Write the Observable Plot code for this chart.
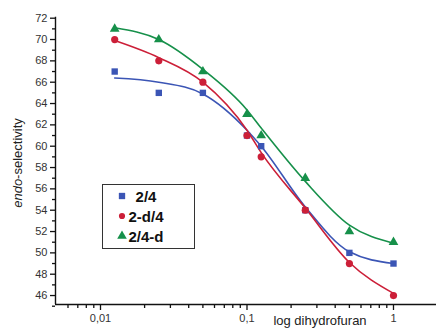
<!DOCTYPE html>
<html><head><meta charset="utf-8">
<script src="https://cdn.jsdelivr.net/npm/d3@7"></script>
<script src="https://cdn.jsdelivr.net/npm/@observablehq/plot@0.6"></script>
<style>
body{margin:0;background:#fff;font-family:"Liberation Sans",Arial,sans-serif;}
#chart{position:relative;width:436px;height:328px;}
</style></head><body><div id="chart"></div>
<script>
// data
const conc = [0.0125, 0.025, 0.05, 0.1, 0.125, 0.25, 0.5, 1];
const s24   = [67, 65, 65, 61, 60, 54, 50, 49];
const s2d4  = [70, 68, 66, 61, 59, 54, 49, 46];
const s24d  = [71, 70, 67, 63, 61, 57, 52, 51];
// fitted curves
const fit24  = [66.4, 66.0, 64.9, 61.5, 60.0, 54.3, 50.1, 49.0];
const fit2d4 = [69.9, 68.3, 66.0, 61.5, 59.4, 54.2, 49.1, 46.2];
const fit24d = [71.1, 70.0, 67.2, 63.4, 61.7, 56.7, 52.6, 50.9];
const seriesNames = ["2/4", "2-d/4", "2/4-d"];
const colors = ["#3b55b5", "#cc1f38", "#16904a"];
const symbols = ["square", "circle", "triangle"];
const xMajor = [0.01, 0.1, 1];
const xMajorLabels = ["0,01", "0,1", "1"];
const xMinor = [0.006,0.007,0.008,0.009,0.02,0.03,0.04,0.05,0.06,0.07,0.08,0.09,0.2,0.3,0.4,0.5,0.6,0.7,0.8,0.9];
const yMajor = [46,48,50,52,54,56,58,60,62,64,66,68,70,72];
const yMinor = [45,47,49,51,53,55,57,59,61,63,65,67,69,71];

const pts = [], fits = [];
[[s24, fit24], [s2d4, fit2d4], [s24d, fit24d]].forEach(([s, f], i) => {
  conc.forEach((c, j) => {
    pts.push({x: c, y: s[j], k: seriesNames[i]});
    fits.push({x: c, y: f[j], k: seriesNames[i]});
  });
});

const fsym = d3.scaleOrdinal(seriesNames, symbols);
const fcol = d3.scaleOrdinal(seriesNames, colors);

const plot = Plot.plot({
  width: 436, height: 328,
  marginLeft: 55, marginRight: 0, marginTop: 17.7, marginBottom: 24,
  style: {fontFamily: "Liberation Sans, Arial, sans-serif", fontSize: "11px", color: "#222", background: "#fff"},
  x: {type: "log", domain: [0.00493, 1.966], axis: null},
  y: {domain: [45.16, 72], axis: null},
  marks: [
    Plot.ruleY([45.16], {stroke: "#111", strokeWidth: 1.4}),
    Plot.ruleX([0.00493], {stroke: "#111", strokeWidth: 1.4, y1: 45.16, y2: 72.1}),
    Plot.axisX({ticks: xMajor, tickSize: 6, tickFormat: (d, i) => xMajorLabels[xMajor.indexOf(d)], tickPadding: 4, fill: "#333", stroke: "#111", strokeWidth: 1.3, label: null, fontSize: 11}),
    Plot.axisX({ticks: xMinor, tickSize: 4, tickFormat: () => "", stroke: "#111", strokeWidth: 1.3, label: null}),
    Plot.axisY({ticks: yMajor, tickSize: 5, tickPadding: 3, fill: "#333", stroke: "#111", strokeWidth: 1.3, label: null, fontSize: 11}),
    Plot.axisY({ticks: yMinor, tickSize: 3, tickFormat: () => "", stroke: "#111", strokeWidth: 1.3, label: null}),
    Plot.line(fits, {x: "x", y: "y", z: "k", stroke: d => fcol(d.k), curve: "monotone-x", strokeWidth: 1.6}),
    Plot.dot(pts, {x: "x", y: "y", symbol: d => fsym(d.k), fill: d => fcol(d.k), r: 3.6, stroke: "none"})
  ]
});
document.getElementById("chart").appendChild(plot);

const svg = d3.select(plot);
// x axis label
svg.append("text").attr("x", 320).attr("y", 325).attr("text-anchor", "middle")
  .attr("font-size", 13).attr("fill", "#222").text("log dihydrofuran");
// y axis label
const yl = svg.append("text").attr("transform", "translate(22,163) rotate(-90)")
  .attr("text-anchor", "middle").attr("font-size", 13).attr("fill", "#222");
yl.append("tspan").attr("font-style", "italic").text("endo");
yl.append("tspan").text("-selectivity");
// legend
const lg = svg.append("g");
lg.append("rect").attr("x", 102.5).attr("y", 184.5).attr("width", 92).attr("height", 64)
  .attr("fill", "#fff").attr("stroke", "#333").attr("stroke-width", 1);
seriesNames.forEach((n, i) => {
  const y = 196 + i * 20;
  const sym = d3.symbol(i === 0 ? d3.symbolSquare : i === 1 ? d3.symbolCircle : d3.symbolTriangle, i === 1 ? 30 : 40);
  lg.append("path").attr("d", sym()).attr("transform", `translate(122,${y})`).attr("fill", colors[i]);
  lg.append("text").attr("x", 146).attr("y", y + 5.5).attr("font-size", 15).attr("font-weight", "bold")
    .attr("fill", "#111").text(n);
});
</script></body></html>
